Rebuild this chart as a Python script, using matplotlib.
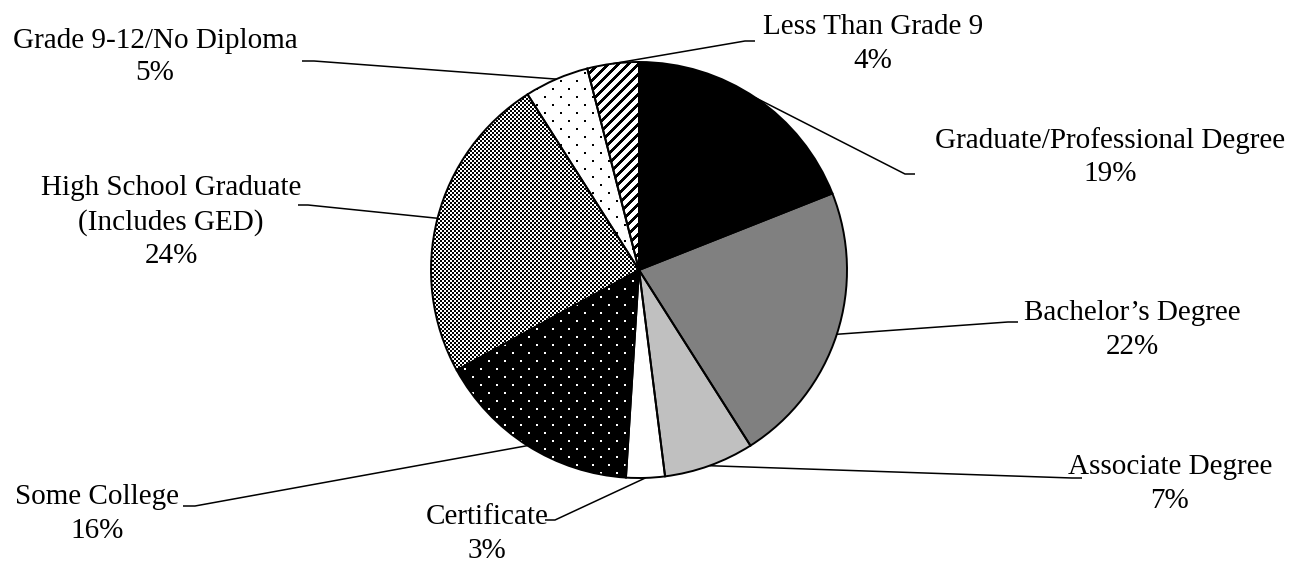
import numpy as np
import matplotlib
matplotlib.use("Agg")
import matplotlib.pyplot as plt

# Educational attainment shares (percent), clockwise from 12 o'clock
categories = [
    "Graduate/Professional Degree",
    "Bachelor\u2019s Degree",
    "Associate Degree",
    "Certificate",
    "Some College",
    "High School Graduate\n(Includes GED)",
    "Grade 9-12/No Diploma",
    "Less Than Grade 9",
]
shares = [19, 22, 7, 3, 16, 24, 5, 4]

# fill style of each slice: plain colour or a bitmap pattern
fills = ["#000000", "#808080", "#c0c0c0", "#ffffff",
         "white_dots", "checker", "black_dots", "stripes"]

W, H = 1289, 564
cx, cy, R = 639, 270, 208  # pie centre / radius in pixels (y from top)

# label block centres and leader elbows/ends (pixels, y from top)
label_pos = [(1110, 157), (1132, 330), (1170, 484), (487, 534),
             (97, 514), (171, 222), (155, 57), (873, 44)]
leader_elbow = [(905, 174), (1008, 322), (1072, 478), (555, 520),
                (195, 506), (308, 205), (314, 61), (745, 41)]
leader_end = [(915, 174), (1018, 322), (1082, 478), (545, 520),
              (183, 506), (298, 205), (302, 61), (755, 41)]

fig = plt.figure(figsize=(W / 100, H / 100), dpi=100)
ax = fig.add_axes([0, 0, 1, 1])

base = [f if f.startswith("#") else ("#000000" if f == "white_dots" else "#ffffff")
        for f in fills]
wedges, _ = ax.pie(shares, startangle=90, counterclock=False,
                   center=(cx, H - cy), radius=R, colors=base,
                   wedgeprops=dict(linewidth=0))

# bitmap patterns in figure pixel space
rr, cc = np.mgrid[0:H, 0:W]
lattice = ((rr % 8) < 2) & (((cc + 8 * ((rr // 8) % 2)) % 16) < 2)
masks = {
    "white_dots": lattice,
    "black_dots": lattice,
    "checker": ((rr // 2 + cc // 2) % 2) == 0,
    "stripes": ((rr + cc) % 10) < 4,
}
ink = {"white_dots": 1.0, "black_dots": 0.0, "checker": 0.0, "stripes": 0.0}

for w, f in zip(wedges, fills):
    if f.startswith("#"):
        continue
    tex = np.zeros((H, W, 4))
    tex[masks[f], :3] = ink[f]
    tex[masks[f], 3] = 1.0
    im = ax.imshow(tex, extent=(0, W, 0, H), origin="upper",
                   interpolation="nearest", zorder=2)
    im.set_clip_path(w)

# slice outlines on top of the patterns
ax.pie(shares, startangle=90, counterclock=False, center=(cx, H - cy),
       radius=R, colors=["none"] * len(shares),
       wedgeprops=dict(edgecolor="black", linewidth=1.4, zorder=3))

ax.set_xlim(0, W)
ax.set_ylim(0, H)
ax.set_aspect("equal")
ax.axis("off")

for w, name, v, (lx, ly), (ex, ey), (tx, ty) in zip(
        wedges, categories, shares, label_pos, leader_elbow, leader_end):
    mid = np.deg2rad((w.theta1 + w.theta2) / 2)
    px, py = cx + R * np.cos(mid), (H - cy) + R * np.sin(mid)
    ax.plot([px, ex, tx], [py, H - ey, H - ty], color="black", lw=1.1,
            zorder=4, solid_capstyle="butt")
    ax.text(lx, H - ly, f"{name}\n{v}%", ha="center", va="center",
            multialignment="center", fontsize=21, family="Liberation Serif",
            linespacing=1.35, zorder=5)

fig.savefig("out.png", dpi=100, facecolor="white")
